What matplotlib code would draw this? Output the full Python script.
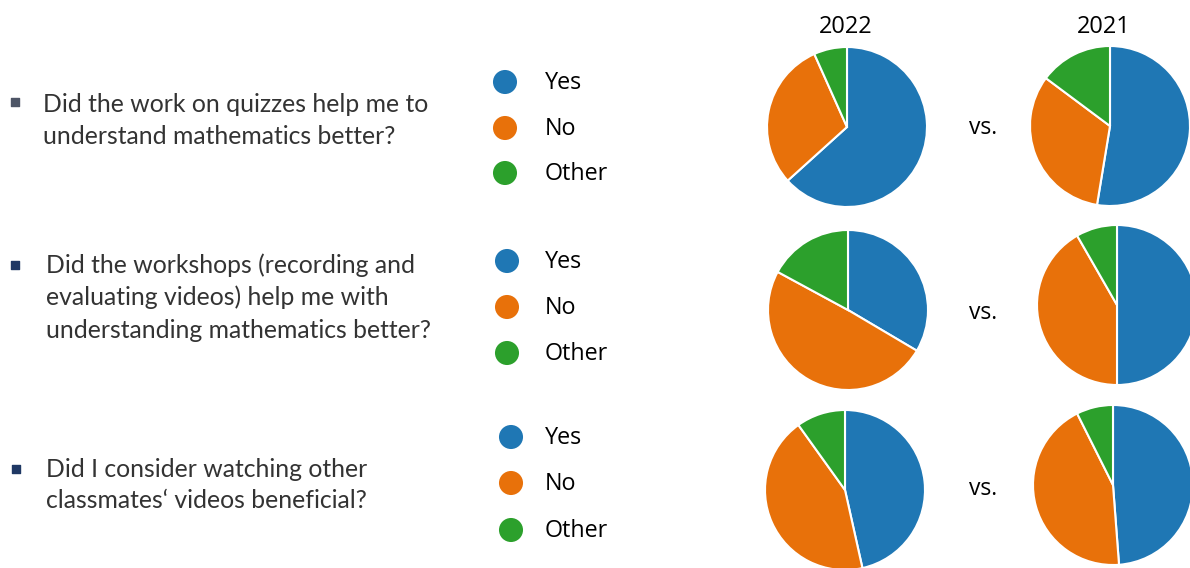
import matplotlib
matplotlib.use('Agg')
import matplotlib.pyplot as plt

# Survey answers (percent)
answers = ['Yes', 'No', 'Other']
years = ['2022', '2021']
questions = [
    ['Did the work on quizzes help me to',
     'understand mathematics better?'],
    ['Did the workshops (recording and',
     'evaluating videos) help me with',
     'understanding mathematics better?'],
    ['Did I consider watching other',
     'classmates\u2018 videos beneficial?'],
]
share_2022 = [
    [63.3, 30.0, 6.7],
    [33.5, 49.4, 17.1],
    [46.5, 43.6, 9.9],
]
share_2021 = [
    [52.6, 32.6, 14.8],
    [50.0, 41.7, 8.3],
    [48.8, 43.8, 7.4],
]

colors = ['#1f77b4', '#e8710a', '#2ca02c']
W, H = 1190, 568

fig = plt.figure(figsize=(W / 100, H / 100), dpi=100)

# overlay axes in pixel coordinates for the slide text
bg = fig.add_axes([0, 0, 1, 1])
bg.set_xlim(0, W)
bg.set_ylim(H, 0)
bg.axis('off')

# layout of the three rows
q_x = [43, 46, 46]
q_base = [[112, 144], [273, 305, 338], [477, 508]]
bullet_pos = [(15, 102), (15, 265), (16, 469)]
bullet_col = ['#4d5566', '#1f3864', '#1f3864']
leg_x = [505, 507, 511]
leg_y = [[82, 128, 173], [261, 307, 353], [437, 483, 530]]
pie_c = [[(847, 127), (1110, 126)],
         [(848, 310), (1117, 305)],
         [(845, 490), (1113, 485)]]
vs_pos = [(983, 128), (983, 313), (983, 489)]
R = 80

for i, lines in enumerate(questions):
    bx, by = bullet_pos[i]
    bg.scatter([bx], [by], marker='s', s=38, color=bullet_col[i], zorder=3)
    for line, yb in zip(lines, q_base[i]):
        bg.text(q_x[i], yb, line, fontsize=17.8, family='Lato',
                color='#333333', va='baseline', ha='left')

    for j, lab in enumerate(answers):
        bg.scatter([leg_x[i]], [leg_y[i][j]], s=300, color=colors[j],
                   edgecolors='none', zorder=3)
        bg.text(545, leg_y[i][j] + 1, lab, fontsize=16.8, family='Open Sans',
                color='black', va='center', ha='left')

    vx, vy = vs_pos[i]
    bg.text(vx, vy, 'vs.', fontsize=16.5, family='Open Sans', color='black',
            va='center', ha='center')

    for k, vals in enumerate([share_2022[i], share_2021[i]]):
        cx, cy = pie_c[i][k]
        ax = fig.add_axes([(cx - R) / W, 1 - (cy + R) / H, 2 * R / W, 2 * R / H])
        ax.pie(vals, colors=colors, startangle=90, counterclock=False,
               wedgeprops=dict(edgecolor='white', linewidth=1.5))
        ax.set_xlim(-1, 1)
        ax.set_ylim(-1, 1)
        ax.axis('off')

for k, yr in enumerate(years):
    cx = [846, 1104][k]
    bg.text(cx, 27, yr, fontsize=17, family='Open Sans', color='black',
            va='center', ha='center')

fig.savefig('out.png', dpi=100)
